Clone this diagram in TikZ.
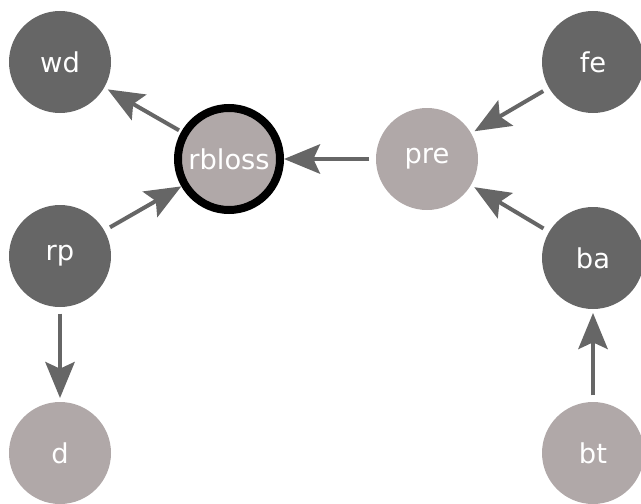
\documentclass[tikz,border=0pt]{standalone}
\usepackage{fontspec}
\setmainfont{DejaVu Sans}
\usetikzlibrary{arrows.meta}
\definecolor{darknode}{HTML}{666666}
\definecolor{lightnode}{HTML}{B0A8A8}
\tikzset{
  vertex/.style={circle, text=white, minimum size=76.5pt, inner sep=0pt,
    font=\fontsize{20.5}{24}\selectfont},
  dark/.style={vertex, fill=darknode, outer sep=3pt},
  light/.style={vertex, fill=lightnode, outer sep=3pt},
  target/.style={vertex, fill=lightnode, draw=black, line width=6pt},
  link/.style={draw=darknode, line width=3pt, shorten <=2pt,
    -{Stealth[length=27pt, width=22pt, inset=5pt]}},
}
\begin{document}
\begin{tikzpicture}[x=0.75pt, y=-0.75pt]
  \useasboundingbox (0,0) rectangle (641,503);
  % left column
  \node[dark] (wd) at (60,62) {wd};
  \node[dark] (rp) at (60,256) {rp};
  \node[light] (d) at (60,453) {d};
  % the loss node with the thick ring
  \node[target] (rbloss) at (229,159) {rbloss};
  \node[light] (pre) at (427,159) {pre};
  % right column
  \node[dark] (fe) at (593,62) {fe};
  \node[dark] (ba) at (593,258) {ba};
  \node[light] (bt) at (593,453) {bt};

  % edges
  \draw[link] (rbloss) -- (wd);
  \draw[link] (rp) -- (rbloss);
  \draw[link] (rp) -- (d);
  \draw[link] (pre) -- (rbloss);
  \draw[link] (fe) -- (pre);
  \draw[link] (ba) -- (pre);
  \draw[link] (bt) -- (ba);
\end{tikzpicture}
\end{document}
